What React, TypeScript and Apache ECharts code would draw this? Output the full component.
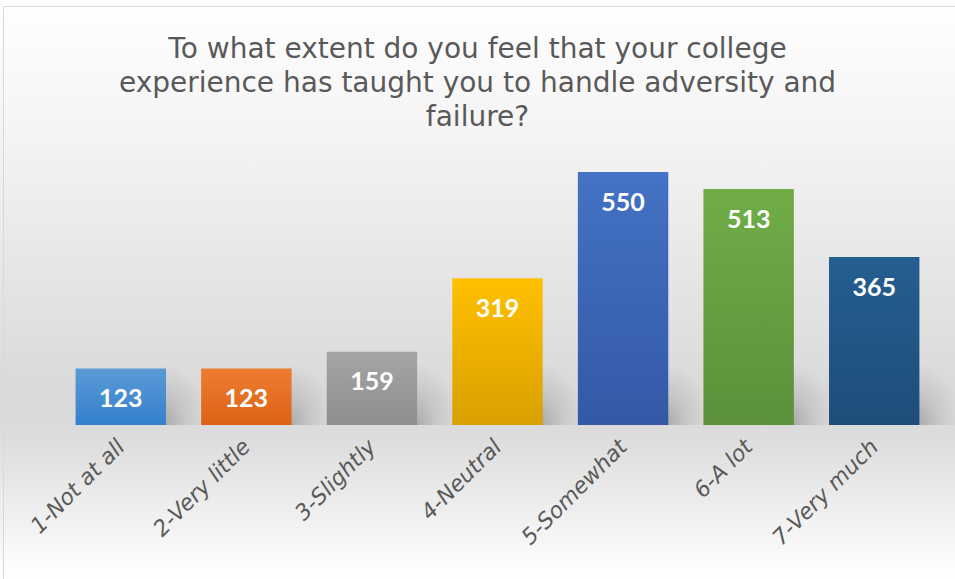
import React, { useEffect, useRef } from "react";
import * as echarts from "echarts";

const titleText =
  "To what extent do you feel that your college\nexperience has taught you to handle adversity and\nfailure?";
const categories = [
  "1-Not at all",
  "2-Very little",
  "3-Slightly",
  "4-Neutral",
  "5-Somewhat",
  "6-A lot",
  "7-Very much",
];
const values = [123, 123, 159, 319, 550, 513, 365];
const topColors = ["#5b9bd5", "#ed7d31", "#a5a5a5", "#ffc000", "#4472c4", "#70ad47", "#255e91"];
const bottomColors = ["#3480cd", "#dc6215", "#8e8e8e", "#d9a000", "#3359a6", "#5a913a", "#1e4d79"];

export default function App() {
  const ref = useRef<HTMLDivElement>(null);
  useEffect(() => {
    document.body.style.margin = "0";
    const chart = echarts.init(ref.current!, null, { renderer: "svg" });
    chart.setOption({
      animation: false,
      title: {
        text: titleText,
        left: "center",
        top: 26,
        textStyle: {
          fontFamily: "DejaVu Sans",
          fontWeight: "normal",
          fontSize: 28,
          lineHeight: 34,
          color: "#595959",
        },
      },
      graphic: [
        {
          type: "rect",
          shape: { x: 3.5, y: 6.5, width: 1000, height: 1000 },
          style: { fill: "none", stroke: "#d9d9d9", lineWidth: 1 },
          silent: true,
          z: -10,
        },
      ],
      grid: { left: 58, right: 18, top: 149, bottom: 154, containLabel: false },
      xAxis: {
        type: "category",
        data: categories,
        axisLine: { show: false },
        axisTick: { show: false },
        axisLabel: {
          rotate: 45,
          interval: 0,
          margin: 18,
          fontFamily: "DejaVu Sans",
          fontStyle: "italic",
          fontSize: 22,
          color: "#595959",
        },
      },
      yAxis: {
        type: "value",
        min: 0,
        max: 600,
        show: false,
        splitLine: { show: false },
      },
      series: [
        {
          type: "custom",
          z: 1,
          silent: true,
          data: values.map((v, i) => [i, v]),
          renderItem: (params: any, api: any) => {
            const base = api.coord([api.value(0), 0]);
            const band = api.size([1, 0])[0];
            const right = base[0] + (band * 0.72) / 2;
            const w = 46;
            const h = 62;
            return {
              type: "rect",
              shape: { x: right - 4, y: base[1] - h, width: w, height: h },
              style: {
                fill: new echarts.graphic.RadialGradient(0, 1, 1, [
                  { offset: 0, color: "rgba(0,0,0,0.24)" },
                  { offset: 0.5, color: "rgba(0,0,0,0.09)" },
                  { offset: 1, color: "rgba(0,0,0,0)" },
                ]),
              },
            };
          },
        },
        {
          type: "bar",
          z: 2,
          barCategoryGap: "28%",
          data: values.map((v, i) => ({
            value: v,
            itemStyle: {
              color: new echarts.graphic.LinearGradient(0, 0, 0, 1, [
                { offset: 0, color: topColors[i] },
                { offset: 1, color: bottomColors[i] },
              ]),
            },
          })),
          label: {
            show: true,
            position: "insideTop",
            distance: 16,
            color: "#ffffff",
            fontFamily: "Lato",
            fontWeight: "bold",
            fontSize: 25,
          },
        },
      ],
    });
    return () => chart.dispose();
  }, []);
  return (
    <div
      ref={ref}
      style={{
        position: "fixed",
        left: 0,
        top: 0,
        width: 955,
        height: 579,
        background: "linear-gradient(to bottom, #ffffff 0%, #f3f3f3 25%, #d9d9d9 68%, #dcdcdc 75%, #ffffff 100%)",
      }}
    />
  );
}
